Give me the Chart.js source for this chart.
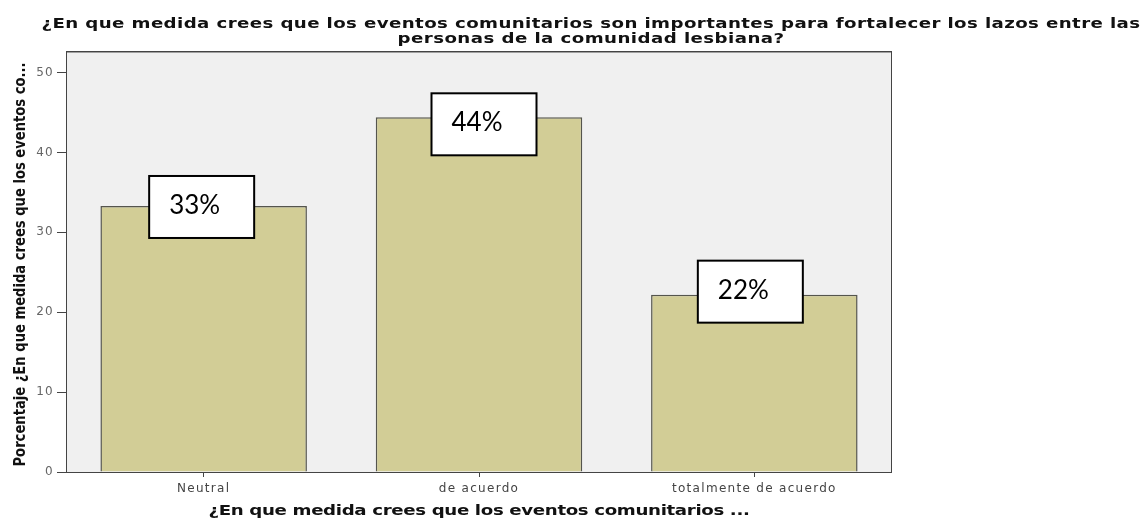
<!DOCTYPE html>
<html>
<head>
<meta charset="utf-8">
<script src="https://cdn.jsdelivr.net/npm/chart.js@4.4.0/dist/chart.umd.min.js"></script>
<style>
html, body { margin: 0; padding: 0; background: #fff; }
</style>
</head>
<body>
<canvas id="chart" width="1146" height="518"></canvas>
<script>
// données
const categories = ['Neutral', 'de acuerdo', 'totalmente de acuerdo'];
const percentages = [33.3, 44.4, 22.2];
const valueLabels = ['33%', '44%', '22%'];
const yTicks = [0, 10, 20, 30, 40, 50];
const titleLines = [
    '¿En que medida crees que los eventos comunitarios son importantes para fortalecer los lazos entre las',
    'personas de la comunidad lesbiana?'
];
const xTitle = '¿En que medida crees que los eventos comunitarios ...';
const yTitle = 'Porcentaje ¿En que medida crees que los eventos co...';

// décalage des étiquettes par rapport au haut des barres
const boxShift = [[-2, 1], [5, 7], [-4, -3]];

// écrit un texte centré, élargi puis espacé pour tenir sur une largeur donnée
function spacedText(ctx, text, cx, y, width, sx) {
    ctx.save();
    ctx.letterSpacing = '0px';
    const w = ctx.measureText(text).width;
    const ls = (width / sx - w) / text.length;
    ctx.letterSpacing = ls + 'px';
    ctx.textAlign = 'left';
    ctx.translate(cx - width / 2, y);
    ctx.scale(sx, 1);
    ctx.fillText(text, 0, 0);
    ctx.restore();
}

const decorPlugin = {
    id: 'decor',
    beforeDraw(chart) {
        const { ctx, chartArea: a } = chart;
        ctx.save();
        ctx.fillStyle = '#f0f0f0';
        ctx.fillRect(a.left, a.top, a.right - a.left, a.bottom - a.top);
        ctx.restore();
        // espacement pour les graduations dessinées par Chart.js
        ctx.letterSpacing = '1.3px';
    },
    afterDatasetsDraw(chart) {
        const { ctx } = chart;
        const meta = chart.getDatasetMeta(0);
        ctx.save();
        ctx.letterSpacing = '0px';
        meta.data.forEach((bar, i) => {
            const bw = 105, bh = 62;
            const cx = bar.x + boxShift[i][0];
            const cy = bar.y + boxShift[i][1];
            const left = cx - bw / 2, top = cy - bh / 2;
            ctx.fillStyle = '#ffffff';
            ctx.fillRect(left, top, bw, bh);
            ctx.lineWidth = 2;
            ctx.strokeStyle = '#000000';
            ctx.strokeRect(left, top, bw, bh);
            ctx.fillStyle = '#000000';
            ctx.font = '26px Lato, "Open Sans", sans-serif';
            ctx.textAlign = 'left';
            ctx.textBaseline = 'alphabetic';
            ctx.fillText(valueLabels[i], left + 20, top + 38);
        });
        ctx.restore();
    },
    afterDraw(chart) {
        const { ctx, chartArea: a } = chart;
        ctx.save();
        ctx.letterSpacing = '0px';
        // cadre de la zone de tracé
        ctx.strokeStyle = '#a0a0a0';
        ctx.lineWidth = 2;
        ctx.beginPath();
        ctx.moveTo(a.left, a.top + 1);
        ctx.lineTo(a.right, a.top + 1);
        ctx.stroke();
        ctx.strokeStyle = '#444444';
        ctx.lineWidth = 1;
        ctx.strokeRect(a.left + 0.5, a.top + 0.5, a.right - a.left - 1, a.bottom - a.top);

        // titre principal
        ctx.fillStyle = '#111111';
        ctx.font = 'bold 14px "DejaVu Sans", sans-serif';
        ctx.textBaseline = 'alphabetic';
        spacedText(ctx, titleLines[0], 591, 28, 1099, 1.3);
        spacedText(ctx, titleLines[1], 591, 43, 387, 1.3);

        // titre de l'axe X
        spacedText(ctx, xTitle, (a.left + a.right) / 2, 515, 541, 1.3);

        // titre de l'axe Y (texte condensé)
        ctx.letterSpacing = '0px';
        ctx.font = 'bold 16px "DejaVu Sans Condensed", "DejaVu Sans", sans-serif';
        const w = ctx.measureText(yTitle).width;
        ctx.translate(25, (a.top + a.bottom) / 2 + 3);
        ctx.rotate(-Math.PI / 2);
        ctx.scale(404 / w, 1);
        ctx.textAlign = 'center';
        ctx.fillText(yTitle, 0, 0);
        ctx.restore();
        ctx.letterSpacing = '0px';
    }
};

const ctx = document.getElementById('chart').getContext('2d');
new Chart(ctx, {
    type: 'bar',
    data: {
        labels: categories,
        datasets: [{
            data: percentages,
            backgroundColor: '#d2cd96',
            borderColor: '#55554d',
            borderWidth: 1.5,
            barPercentage: 0.75,
            categoryPercentage: 1.0
        }]
    },
    options: {
        responsive: false,
        animation: false,
        layout: { padding: { top: 51, right: 254, left: 0, bottom: 0 } },
        plugins: {
            legend: { display: false },
            tooltip: { enabled: false }
        },
        scales: {
            x: {
                afterFit: s => { s.height = 46; },
                border: { display: false },
                grid: {
                    offset: false,
                    drawOnChartArea: false,
                    tickLength: 5,
                    color: '#444'
                },
                ticks: {
                    color: '#444',
                    padding: 5,
                    font: { family: '"DejaVu Sans", sans-serif', size: 12 }
                }
            },
            y: {
                min: 0,
                max: 52.7,
                afterFit: s => { s.width = 66; },
                afterBuildTicks: s => { s.ticks = yTicks.map(v => ({ value: v })); },
                border: { display: false },
                grid: {
                    drawOnChartArea: false,
                    tickLength: 9,
                    color: '#444'
                },
                ticks: {
                    color: '#666',
                    padding: 3,
                    font: { family: '"DejaVu Sans", sans-serif', size: 12 }
                }
            }
        }
    },
    plugins: [decorPlugin]
});
</script>
</body>
</html>
